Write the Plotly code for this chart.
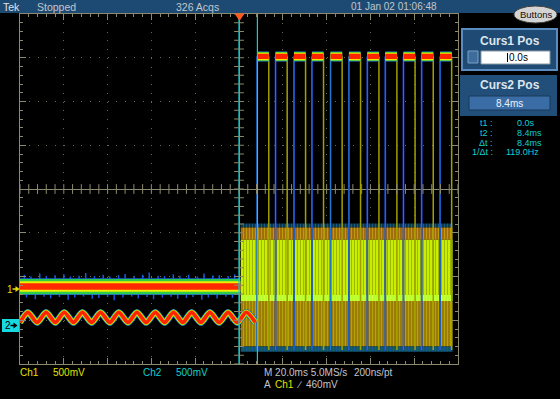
import numpy as np
import plotly.graph_objects as go

# ---------------- data ----------------
time_range_ms = [-100, 100]          # 10 div x 20 ms
vert_range_div = [-4, 4]             # 8 divisions
cursor_t_ms = [0.0, 8.4]             # Curs1, Curs2

# Ch1 before trigger: noisy flat trace
ch1_level = -2.23
ch1_pre_t = [-100.0, 0.6]
ch1_spike_up_t = [-98, -95, -91, -88, -84, -80, -77, -73, -70, -66, -62, -59, -55, -52,
                  -48, -44, -41, -37, -34, -30, -27, -23, -19, -16, -12, -9, -5, -2]
ch1_spike_up_h = [0.27, 0.23, 0.30, 0.24, 0.26, 0.28, 0.23, 0.25, 0.31, 0.24, 0.27, 0.23, 0.26, 0.29,
                  0.24, 0.27, 0.32, 0.25, 0.24, 0.28, 0.25, 0.27, 0.23, 0.30, 0.25, 0.26, 0.24, 0.28]
ch1_spike_dn_t = [-97, -93, -89, -86, -82, -78, -75, -71, -67, -64, -60, -57, -53, -49,
                  -46, -42, -39, -35, -31, -28, -24, -21, -17, -14, -10, -6, -3]
ch1_spike_dn_h = [0.25, 0.29, 0.23, 0.27, 0.24, 0.30, 0.25, 0.23, 0.28, 0.26, 0.24, 0.31, 0.25, 0.23,
                  0.27, 0.24, 0.29, 0.25, 0.23, 0.28, 0.26, 0.24, 0.30, 0.25, 0.27, 0.23, 0.26]

# Ch1 after trigger: dense pulse burst (persistence)
ch1_burst_t = [0.8, 97.5]
ch1_burst_levels = [-0.79, -0.88, -1.16, -2.42, -2.56, -3.60, -3.72]

# Ch2 before trigger: small triangular ripple
ch2_peak_t = [-96.4, -88.1, -79.8, -71.5, -63.2, -54.9, -46.6, -38.2, -29.9, -21.6, -13.3, -5.0, 3.3]
ch2_trough_t = [-100.0, -92.2, -83.9, -75.6, -67.3, -59.0, -50.7, -42.4, -34.0, -25.7, -17.4, -9.1, -0.8, 7.5]
ch2_peak_v = -2.82
ch2_trough_v = -3.05

# Ch2 after trigger: pulses
ch2_hi_start_t = [8.3, 16.7, 25.1, 33.3, 41.8, 50.2, 58.6, 66.8, 75.1, 83.4, 91.8]
ch2_hi_width_ms = 5.3
ch2_hi_level = 3.03
ch2_lo_level = -3.68

# ---------------- helpers (page geometry) ----------------
W, H = 560, 399
L_, R_, T_, B_ = 20, 102, 14, 35
PW, PH = W - L_ - R_, H - T_ - B_


def X(px):
    return (px - L_) / PW


def Y(py):
    return (H - B_ - py) / PH


FONT = "Liberation Sans, Arial, sans-serif"
KHAKI = "#8c8a6e"
YEL = "#e2e200"
CYAN = "#12cfd2"
GREY = "#c2c6cc"

fig = go.Figure()


def rect_xy(t0, t1, lo, hi):
    return [t0, t1, t1, t0, t0], [lo, lo, hi, hi, lo]


def add_fill(xs, ys, bg, fg=None, size=3, solidity=0.35):
    kw = dict(x=xs, y=ys, mode="lines", fill="toself", fillcolor=bg,
              line=dict(width=0), hoverinfo="skip", showlegend=False)
    if fg is not None:
        kw["fillpattern"] = dict(shape="|", bgcolor=bg, fgcolor=fg, size=size,
                                 solidity=solidity, fillmode="overlay")
    fig.add_trace(go.Scatter(**kw))


# ---- Ch1 burst ----
b0, b1 = ch1_burst_t
lv = ch1_burst_levels
layers = [
    (lv[1], lv[0], "#0a3440", "#2a80d0", 0.40),
    (lv[2], lv[1], "#9a6210", "#e6d400", 0.45),
    (lv[3], lv[2], "#c8ee00", "#667000", 0.28),
    (lv[4], lv[3], "#b4ff2a", "#e4ff40", 0.40),
    (lv[5], lv[4], "#8a6408", "#e4e400", 0.58),
    (lv[6], lv[5], "#0e5a58", "#2050e0", 0.45),
]
for lo, hi, bg, fg, sol in layers:
    xs, ys = rect_xy(b0, b1, lo, hi)
    add_fill(xs, ys, bg, fg, 3, sol)

# ---- Ch2 edges after trigger ----
rise_x, rise_y, fall_x, fall_y = [], [], [], []
for s in ch2_hi_start_t:
    e = s + ch2_hi_width_ms
    rise_x += [s, s, None]
    rise_y += [ch2_lo_level, ch2_hi_level, None]
    fall_x += [e, e, None]
    fall_y += [ch2_hi_level, ch2_lo_level, None]
fig.add_trace(go.Scatter(x=rise_x, y=rise_y, mode="lines", line=dict(color="#1c30c0", width=1.8),
                         hoverinfo="skip", showlegend=False))
fig.add_trace(go.Scatter(x=rise_x, y=rise_y, mode="lines", line=dict(color="#20a0d8", width=0.7),
                         hoverinfo="skip", showlegend=False))
fig.add_trace(go.Scatter(x=fall_x, y=fall_y, mode="lines", line=dict(color="#a0a000", width=1.5),
                         hoverinfo="skip", showlegend=False))

# ---- Ch2 high blocks ----
for half, col in [(0.115, "#2a8cd0"), (0.10, "#34d040"), (0.085, "#f0e800"), (0.06, "#ff2400")]:
    xs, ys = [], []
    for s in ch2_hi_start_t:
        rx, ry = rect_xy(s, s + ch2_hi_width_ms, ch2_hi_level - half, ch2_hi_level + half)
        xs += rx + [None]
        ys += ry + [None]
    add_fill(xs, ys, col)

# ---- Ch2 ripple before trigger ----
pts = sorted([(t, ch2_peak_v) for t in ch2_peak_t] + [(t, ch2_trough_v) for t in ch2_trough_t])
wx = [p[0] for p in pts]
wy = [p[1] for p in pts]
for w, col in [(7.0, "#1a48d0"), (6.2, "#26c060"), (5.2, "#e8e400"), (3.8, "#ff2400")]:
    fig.add_trace(go.Scatter(x=wx, y=wy, mode="lines",
                             line=dict(color=col, width=w, shape="spline", smoothing=0.7),
                             hoverinfo="skip", showlegend=False))

# ---- Ch1 before trigger ----
sx, sy = [], []
for t, h in zip(ch1_spike_up_t, ch1_spike_up_h):
    sx += [t, t, None]
    sy += [ch1_level, ch1_level + h, None]
for t, h in zip(ch1_spike_dn_t, ch1_spike_dn_h):
    sx += [t, t, None]
    sy += [ch1_level, ch1_level - h, None]
fig.add_trace(go.Scatter(x=sx, y=sy, mode="lines", line=dict(color="#1a58e0", width=1.5),
                         hoverinfo="skip", showlegend=False))
p0, p1 = ch1_pre_t
for half, col in [(0.19, "#1a66d0"), (0.175, "#2ccc48"), (0.12, "#eeee00"), (0.075, "#ff2800")]:
    xs, ys = rect_xy(p0, p1, ch1_level - half, ch1_level + half)
    add_fill(xs, ys, col)

# ---- cursors ----
for t in cursor_t_ms:
    fig.add_trace(go.Scatter(x=[t, t], y=vert_range_div, mode="lines",
                             line=dict(color=CYAN, width=1.2), hoverinfo="skip", showlegend=False))

# ---- centre-cross tick marks ----
minor_x = np.arange(time_range_ms[0], time_range_ms[1] + 0.01, 4.0)
minor_y = np.arange(vert_range_div[0], vert_range_div[1] + 0.01, 0.2)
fig.add_trace(go.Scatter(x=minor_x, y=np.zeros_like(minor_x), mode="markers",
                         marker=dict(symbol="line-ns", size=7, line=dict(color=KHAKI, width=1)),
                         hoverinfo="skip", showlegend=False))
fig.add_trace(go.Scatter(x=np.zeros_like(minor_y), y=minor_y, mode="markers",
                         marker=dict(symbol="line-ew", size=7, line=dict(color=KHAKI, width=1)),
                         hoverinfo="skip", showlegend=False))

axis_common = dict(showticklabels=False, showline=True, linecolor=KHAKI, linewidth=1,
                   mirror="allticks", ticks="inside", ticklen=6, tickcolor=KHAKI,
                   showgrid=True, gridcolor="#6a6852", gridwidth=1,
                   zeroline=True, zerolinecolor=KHAKI, zerolinewidth=1, fixedrange=True)
fig.update_xaxes(range=time_range_ms, dtick=20, griddash="1px,7.76px",
                 minor=dict(dtick=4, ticks="inside", ticklen=3, tickcolor=KHAKI, showgrid=False),
                 **axis_common)
fig.update_yaxes(range=vert_range_div, dtick=1, griddash="1px,7.76px",
                 minor=dict(dtick=0.2, ticks="inside", ticklen=3, tickcolor=KHAKI, showgrid=False),
                 **axis_common)

shapes = []
annos = []


def box(x0, y0, x1, y1, fill, line=None, lw=0, kind="rect"):
    shapes.append(dict(type=kind, xref="paper", yref="paper", x0=X(x0), x1=X(x1), y0=Y(y1), y1=Y(y0),
                       fillcolor=fill, line=dict(color=line or fill, width=lw), layer="above"))


def txt(px, py, s, color=GREY, size=10, anchor="left", bold=False):
    annos.append(dict(xref="paper", yref="paper", x=X(px), y=Y(py), text=("<b>%s</b>" % s) if bold else s,
                      showarrow=False, xanchor=anchor, yanchor="middle",
                      font=dict(family=FONT, size=size, color=color), borderpad=0))


def arrow(x_tail, x_head, py, color):
    shapes.append(dict(type="line", xref="paper", yref="paper", x0=X(x_tail), x1=X(x_head - 3),
                       y0=Y(py), y1=Y(py), line=dict(color=color, width=1.5), layer="above"))
    shapes.append(dict(type="path", xref="paper", yref="paper",
                       path="M %f,%f L %f,%f L %f,%f Z" % (X(x_head - 4), Y(py - 3), X(x_head), Y(py),
                                                         X(x_head - 4), Y(py + 3)),
                       fillcolor=color, line=dict(color=color, width=0), layer="above"))


# header bar
box(0, 0, 560, 13, "#1d4a72")
txt(2, 6.5, "Tek", "#e0e4e8", 10.5)
txt(36, 6.5, "Stopped", GREY, 10.5)
txt(175, 6.5, "326 Acqs", GREY, 10.5)
txt(350, 6.5, "01 Jan 02 01:06:48", GREY, 10)
# Buttons pill
box(514, 6, 557, 23, "#d4d4d4", "#404040", 1, kind="circle")
txt(535.5, 14.5, "Buttons", "#101010", 9.5, "center")

# trigger position marker
shapes.append(dict(type="path", xref="paper", yref="paper",
                   path="M %f,%f L %f,%f L %f,%f Z" % (X(234.5), Y(13.5), X(244.5), Y(13.5), X(239.5), Y(21)),
                   fillcolor="#ff5a1e", line=dict(color="#ff5a1e", width=0), layer="above"))

# Curs1 panel
box(462, 29, 557, 70, "#1f4a74", "#5a8cc2", 2)
txt(509.5, 41, "Curs1 Pos", "#dce4ec", 12, "center", bold=True)
box(468, 51, 478, 63, "#3e6c9c", "#7aa0c8", 1)
box(481, 51, 550, 64, "#ffffff", "#8a98a8", 1)
shapes.append(dict(type="line", xref="paper", yref="paper", x0=X(507.5), x1=X(507.5), y0=Y(53), y1=Y(62),
                   line=dict(color="#000000", width=1), layer="above"))
txt(508, 57.5, "0.0s", "#000000", 10)
# Curs2 panel
box(460, 75, 557, 116, "#224e7a")
txt(509.5, 85, "Curs2 Pos", "#dce4ec", 12, "center", bold=True)
box(469, 96, 550, 110, "#3a6ca6", "#1a3858", 1)
txt(509.5, 103, "8.4ms", "#eef2f6", 10, "center")
# readouts
for py, lab, val, vx in [(123.5, "t1 :", "0.0s", 516), (133, "t2 :", "8.4ms", 516),
                         (142.5, "\u0394t :", "8.4ms", 516), (152, "1/\u0394t :", "119.0Hz", 505)]:
    txt(494, py, lab, CYAN, 9, "right")
    txt(vx, py, val, CYAN, 9)

# channel markers at left
txt(6, 289, "1", YEL, 10)
arrow(12.5, 19.5, 289, YEL)
box(2, 319, 19, 332, "#18d8e0")
txt(3.5, 325.5, "2", "#000000", 10)
arrow(10.5, 17.5, 325.5, "#000000")

# bottom readouts
txt(19, 372, "Ch1", YEL, 10)
txt(52, 372, "500mV", YEL, 10)
txt(142, 372, "Ch2", CYAN, 10)
txt(175, 372, "500mV", CYAN, 10)
txt(263, 372, "M 20.0ms 5.0MS/s", GREY, 10)
txt(353, 372, "200ns/pt", GREY, 10)
txt(263, 384, "A", GREY, 10)
txt(274, 384, "Ch1", YEL, 10)
txt(295, 384, "\u2215", GREY, 10)
txt(305, 384, "460mV", GREY, 10)

fig.update_layout(width=W, height=H, margin=dict(l=L_, r=R_, t=T_, b=B_),
                  paper_bgcolor="#000000", plot_bgcolor="#000000",
                  showlegend=False, shapes=shapes, annotations=annos)

fig.write_html("out.html", config={"displayModeBar": False},
               post_script="document.body.style.margin='0px';document.body.style.padding='0px';"
                           "document.body.style.background='#000';document.body.style.overflow='hidden';")
